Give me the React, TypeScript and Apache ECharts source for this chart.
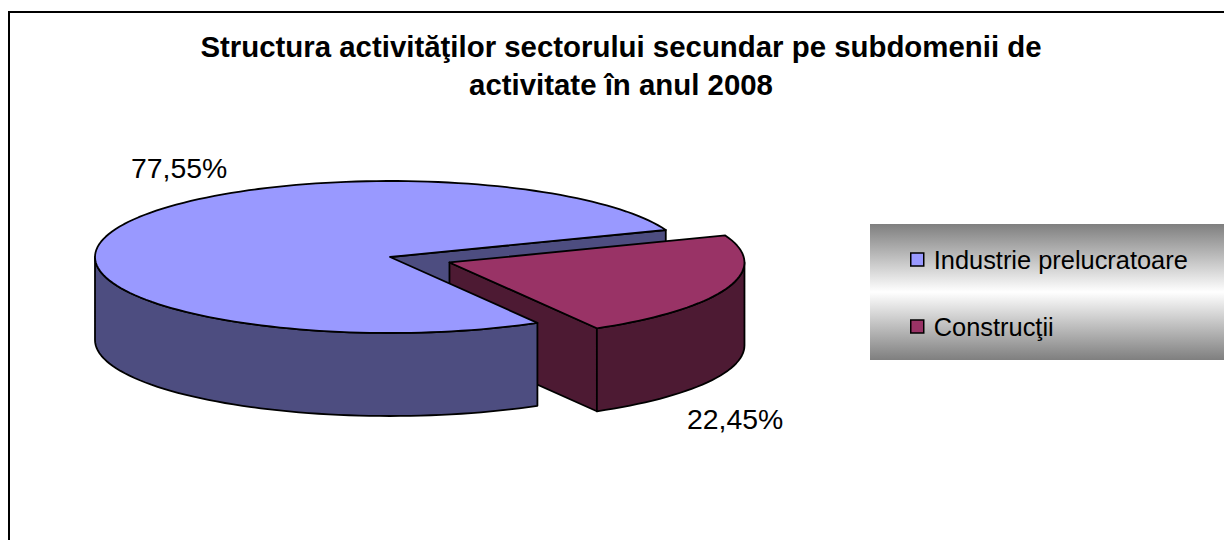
import React, { useEffect, useRef } from "react";
import * as echarts from "echarts";

const titleLines = [
  "Structura activităţilor sectorului secundar pe subdomenii de",
  "activitate în anul 2008",
];
const categories = ["Industrie prelucratoare", "Construcţii"];
const values = [77.55, 22.45];
const labels = ["77,55%", "22,45%"];

const FONT = "'Liberation Sans', Arial, sans-serif";
const CX = 390, CY = 257, RX = 295, RY = 76, DEPTH = 83;
const START_DEG = 20.8;
const EXPLODE = 0.214;
const TOP = ["#9999FF", "#993366"];
const SIDE = ["#4D4D80", "#4D1A33"];
const LINE = { stroke: "#000", lineWidth: 1.8, lineJoin: "round" as const };

const total = values.reduce((a, b) => a + b, 0);
const rad = (d: number) => (d * Math.PI) / 180;
const pt = (cx: number, cy: number, deg: number): number[] => [
  cx + RX * Math.cos(rad(deg)),
  cy - RY * Math.sin(rad(deg)),
];
const arc = (cx: number, cy: number, from: number, to: number): number[][] => {
  const n = Math.max(2, Math.ceil(Math.abs(to - from) / 2));
  const out: number[][] = [];
  for (let i = 0; i <= n; i++) out.push(pt(cx, cy, from + ((to - from) * i) / n));
  return out;
};
const poly = (points: number[][], fill: string, z2: number) => ({
  type: "polygon",
  z2,
  shape: { points },
  style: { fill, ...LINE },
});

const sweep = (v: number) => (v / total) * 360;

function renderBig(_p: any, api: any) {
  const s = sweep(api.value(0));
  const low = START_DEG - (360 - s); // bottom cut angle
  const c = [CX, CY];
  const a = pt(CX, CY, START_DEG);
  const wall = [c, a, [a[0], a[1] + DEPTH], [c[0], c[1] + DEPTH]];
  const topArc = arc(CX, CY, low, low - s);
  const sideTop = arc(CX, CY, -180, low);
  const sideBot = sideTop.map((q) => [q[0], q[1] + DEPTH]).reverse();
  return {
    type: "group",
    children: [
      poly(wall, SIDE[0], 1),
      poly([...sideTop, ...sideBot], SIDE[0], 6),
      poly([c, ...topArc], TOP[0], 7),
      {
        type: "text",
        z2: 8,
        style: { text: labels[0], x: 131, y: 168, fill: "#000", font: `28.4px ${FONT}`, align: "left", verticalAlign: "middle" },
      },
    ],
  };
}

function renderSmall(_p: any, api: any) {
  const s = sweep(api.value(0));
  const from = START_DEG;
  const to = START_DEG - s;
  const midR = rad((from + to) / 2);
  const cx = CX + EXPLODE * RX * Math.cos(midR);
  const cy = CY - EXPLODE * RY * Math.sin(midR);
  const c = [cx, cy];
  const low = pt(cx, cy, to);
  const topArc = arc(cx, cy, from, to);
  const wall = [c, low, [low[0], low[1] + DEPTH], [c[0], c[1] + DEPTH]];
  const sideTop = arc(cx, cy, to, 0);
  const sideBot = sideTop.map((q) => [q[0], q[1] + DEPTH]).reverse();
  return {
    type: "group",
    children: [
      poly(wall, SIDE[1], 2),
      poly([...sideTop, ...sideBot], SIDE[1], 3),
      poly([c, ...topArc], TOP[1], 4),
      {
        type: "text",
        z2: 8,
        style: { text: labels[1], x: 687, y: 419, fill: "#000", font: `28.4px ${FONT}`, align: "left", verticalAlign: "middle" },
      },
    ],
  };
}

export default function App() {
  const ref = useRef<HTMLDivElement>(null);
  useEffect(() => {
    document.body.style.margin = "0";
    const chart = echarts.init(ref.current!, undefined, { renderer: "svg" });
    chart.setOption({
      animation: false,
      backgroundColor: "#fff",
      color: TOP,
      title: {
        text: titleLines.join("\n"),
        left: 616,
        top: 22,
        textAlign: "center",
        textStyle: { fontFamily: FONT, fontSize: 29.4, fontWeight: "bold", color: "#000", lineHeight: 38 },
      },
      legend: {
        data: categories,
        orient: "vertical",
        left: 905,
        top: 242,
        icon: "rect",
        itemWidth: 13,
        itemHeight: 13,
        itemGap: 42,
        selectedMode: false,
        itemStyle: { borderColor: "#000", borderWidth: 1.5 },
        textStyle: { fontFamily: FONT, fontSize: 25.4, color: "#000", padding: [0, 0, 0, 5] },
      },
      graphic: [
        {
          type: "rect",
          z: -1,
          silent: true,
          shape: { x: 870, y: 224, width: 354, height: 136 },
          style: {
            fill: new echarts.graphic.LinearGradient(0, 0, 0, 1, [
              { offset: 0, color: "#7F7F7F" },
              { offset: 0.5, color: "#FFFFFF" },
              { offset: 1, color: "#7F7F7F" },
            ]),
          },
        },
        {
          type: "polyline",
          silent: true,
          shape: { points: [[9, 540], [9, 12], [1224, 12]] },
          style: { stroke: "#000", lineWidth: 2, fill: "none" },
        },
      ],
      series: [
        { type: "custom", name: categories[0], coordinateSystem: "none", data: [[values[0]]], itemStyle: { color: TOP[0] }, renderItem: renderBig, silent: true },
        { type: "custom", name: categories[1], coordinateSystem: "none", data: [[values[1]]], itemStyle: { color: TOP[1] }, renderItem: renderSmall, silent: true },
      ],
    });
    return () => chart.dispose();
  }, []);
  return <div ref={ref} style={{ width: 1224, height: 540 }} />;
}
